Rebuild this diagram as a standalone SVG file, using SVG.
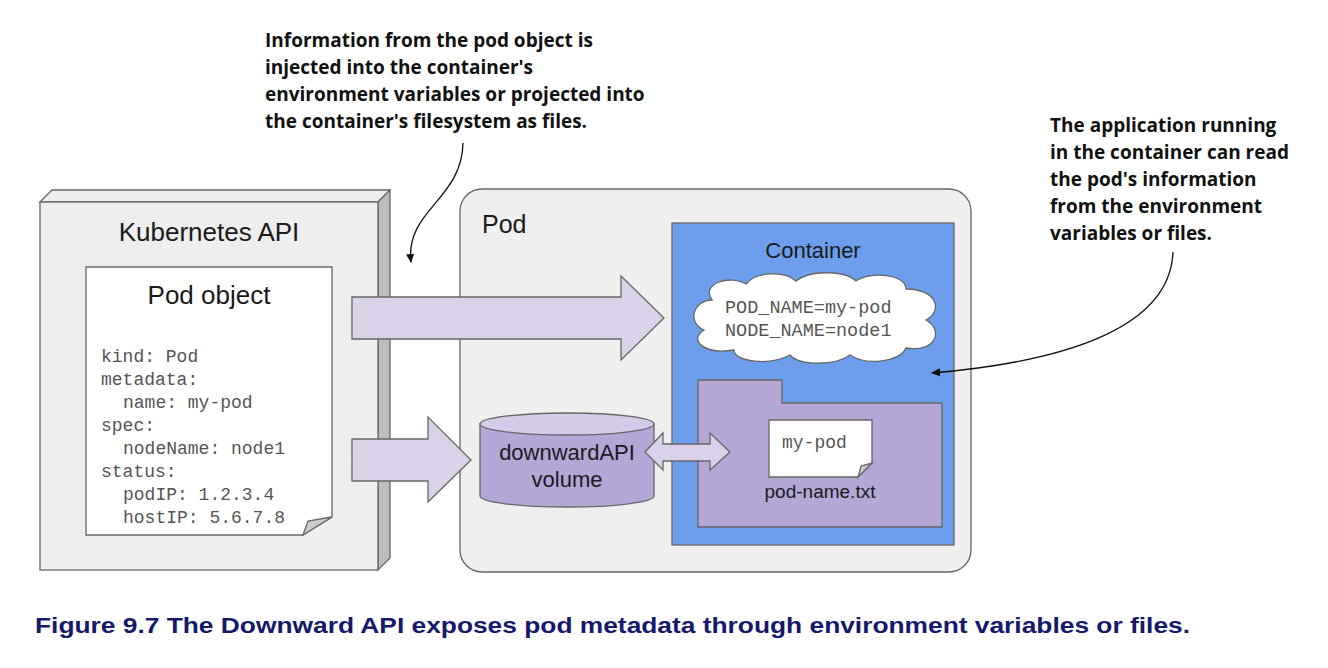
<svg xmlns="http://www.w3.org/2000/svg" width="1328" height="668" viewBox="0 0 1328 668">
<defs>
<style>
.sans{font-family:"Liberation Sans",Arial,sans-serif;fill:#1a1a1a}
.mono{font-family:"Liberation Mono","Courier New",monospace;fill:#555555}
.note{font-family:"Open Sans",Lato,sans-serif;font-weight:bold;font-size:19px;fill:#111111}
.shape{stroke:#666666;stroke-width:1.3}
.bigarrow{fill:#d9d2e9;stroke:#666666;stroke-width:1.3}
.callout{fill:none;stroke:#111111;stroke-width:1.3}
</style>
<marker id="ah" markerWidth="10" markerHeight="10" refX="8" refY="5" orient="auto" markerUnits="userSpaceOnUse">
<path d="M0,1 L9,5 L0,9 Z" fill="#111111"/>
</marker>
</defs>
<rect width="1328" height="668" fill="#ffffff"/>

<g id="kubernetes-api">
<path class="shape" d="M40,202 L52,190 H390 L378,202 Z" fill="#eeeeee"/>
<path class="shape" d="M378,202 L390,190 V558 L378,570 Z" fill="#bdbdbd"/>
<rect class="shape" x="40" y="202" width="338" height="368" fill="#eeeeee"/>
<text class="sans" x="209" y="241" font-size="26" text-anchor="middle">Kubernetes API</text>
</g>

<g id="pod-object">
<path class="shape" d="M86,267 H332 V517 L303,535 H86 Z" fill="#ffffff"/>
<path class="shape" d="M303,535 L308,521 L332,517 Z" fill="#cccccc"/>
<text class="sans" x="209" y="304" font-size="26" text-anchor="middle">Pod object</text>
<g class="mono" font-size="18">
<text x="101" y="362">kind: Pod</text>
<text x="101" y="385">metadata:</text>
<text x="123" y="408">name: my-pod</text>
<text x="101" y="431">spec:</text>
<text x="123" y="454">nodeName: node1</text>
<text x="101" y="477">status:</text>
<text x="123" y="500">podIP: 1.2.3.4</text>
<text x="123" y="523">hostIP: 5.6.7.8</text>
</g>
</g>

<g id="pod">
<rect class="shape" x="460" y="189" width="511" height="383" rx="22" ry="22" fill="#efefef"/>
<text class="sans" x="482" y="233" font-size="25">Pod</text>
</g>

<g id="container">
<rect class="shape" x="672" y="223" width="282" height="322" fill="#6d9eeb"/>
<text class="sans" x="813" y="258" font-size="22" text-anchor="middle">Container</text>
</g>

<g id="env-cloud">
<path class="shape" fill="#ffffff" d="M712,300 C700,284 730,274 746,284 C756,271 786,271 796,281 C811,269 846,271 856,281 C871,271 906,274 906,289 C936,289 944,310 926,320 C944,330 936,353 906,348 C900,362 866,366 850,355 C835,366 800,366 790,355 C770,366 734,362 734,350 C704,355 688,340 704,330 C686,322 694,300 712,300 Z"/>
<g class="mono" font-size="18.5">
<text x="725" y="313">POD_NAME=my-pod</text>
<text x="725" y="336">NODE_NAME=node1</text>
</g>
</g>

<g id="downwardapi-volume">
<path class="shape" d="M480,424 V496 A87,11 0 0 0 654,496 V424 Z" fill="#b4a7d6"/>
<ellipse class="shape" cx="567" cy="424" rx="87" ry="11" fill="#d3cbe8"/>
<text class="sans" x="567" y="460" font-size="22" text-anchor="middle">downwardAPI</text>
<text class="sans" x="567" y="487" font-size="22" text-anchor="middle">volume</text>
</g>

<g id="volume-folder">
<path class="shape" d="M698,380 H782 V403 H942 V527 H698 Z" fill="#b4a7d6"/>
</g>

<g id="pod-name-file">
<path class="shape" d="M769,420 H872 V463 L858,477 H769 Z" fill="#ffffff"/>
<path class="shape" d="M858,477 L861,466 L872,463 Z" fill="#cccccc"/>
<text class="mono" x="782" y="448" font-size="18">my-pod</text>
<text class="sans" x="820" y="498" font-size="19" text-anchor="middle">pod-name.txt</text>
</g>

<g id="note-injection">
<text class="note" x="265" y="47">Information from the pod object is</text>
<text class="note" x="265" y="74">injected into the container's</text>
<text class="note" x="265" y="101">environment variables or projected into</text>
<text class="note" x="265" y="128">the container's filesystem as files.</text>
</g>

<g id="note-application">
<text class="note" x="1050" y="132">The application running</text>
<text class="note" x="1050" y="159">in the container can read</text>
<text class="note" x="1050" y="186">the pod's information</text>
<text class="note" x="1050" y="213">from the environment</text>
<text class="note" x="1050" y="240">variables or files.</text>
</g>

<g id="connectors">
<path class="bigarrow" d="M352,297 H621 V276 L664,318 L621,360 V339 H352 Z"/>
<path class="bigarrow" d="M352,439 H428 V417 L471,460 L428,502 V481 H352 Z"/>
<path class="bigarrow" d="M645,452 L663,433 V444 H710 V433 L730,452 L710,470 V461 H663 V470 Z"/>
<path class="callout" d="M463,143 C462,200 405,210 411,262" marker-end="url(#ah)"/>
<path class="callout" d="M1173,252 C1170,330 1060,362 932,373" marker-end="url(#ah)"/>
</g>

<text x="35" y="633" font-family="'Liberation Sans',Arial,sans-serif" font-weight="bold" font-size="22" fill="#16186b" textLength="1155" lengthAdjust="spacingAndGlyphs">Figure 9.7 The Downward API exposes pod metadata through environment variables or files.</text>
</svg>
